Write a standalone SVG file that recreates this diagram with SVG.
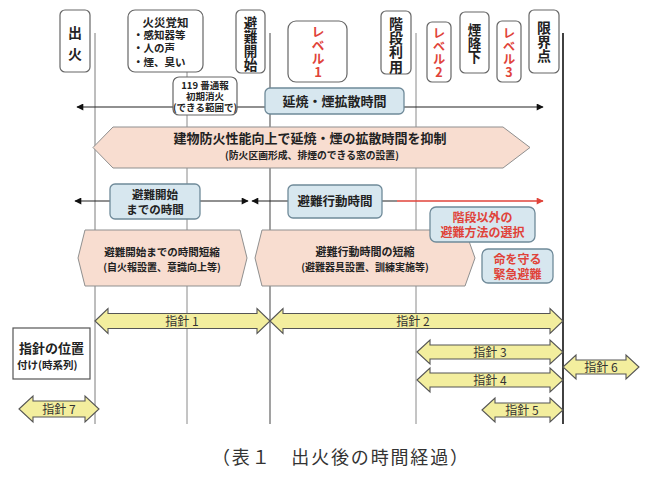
<svg xmlns="http://www.w3.org/2000/svg" width="650" height="486" viewBox="0 0 650 486">
<style>
text{font-family:"Noto Sans CJK JP","Noto Sans CJK SC",sans-serif;fill:#222;}
.b{font-weight:700;}
.hdr{fill:#fff;stroke:#666;stroke-width:1.2;}
.blue{fill:#d7e7ef;stroke:#6f8a99;stroke-width:1.3;}
.pink{fill:#f8ddd0;stroke:#8f8f8f;stroke-width:1;}
.yel{fill:#f3ee9e;stroke:#555;stroke-width:1.1;}
.red{fill:#e0433a;}
.vt{font-weight:700;text-anchor:middle;writing-mode:vertical-rl;text-orientation:upright;}
.c{text-anchor:middle;}
.yl{font-size:12px;text-anchor:middle;fill:#333;}
</style>
<defs>
<marker id="ah" viewBox="0 0 10 10" refX="9" refY="5" markerWidth="9" markerHeight="7" markerUnits="userSpaceOnUse" orient="auto-start-reverse"><path d="M0,0 L10,5 L0,10 Z" fill="#111"/></marker>
<marker id="ahr" viewBox="0 0 10 10" refX="9" refY="5" markerWidth="9" markerHeight="7" markerUnits="userSpaceOnUse" orient="auto"><path d="M0,0 L10,5 L0,10 Z" fill="#e0433a"/></marker>
</defs>

<g id="timeline-lines" fill="none">
<line x1="95" y1="33" x2="95" y2="424" stroke="#7d7d7d" stroke-width="1"/>
<line x1="187" y1="72" x2="187" y2="424" stroke="#8a8a8a" stroke-width="1"/>
<line x1="270" y1="33" x2="270" y2="424" stroke="#555" stroke-width="1.1"/>
<line x1="416" y1="33" x2="416" y2="424" stroke="#8a8a8a" stroke-width="1"/>
<line x1="563" y1="33" x2="563" y2="424" stroke="#111" stroke-width="1.6"/>
</g>

<g id="connectors" fill="none">
<line x1="77" y1="107" x2="543" y2="107" stroke="#222" stroke-width="1.2" marker-start="url(#ah)" marker-end="url(#ah)"/>
<line x1="75" y1="201" x2="248" y2="201" stroke="#222" stroke-width="1.2" marker-start="url(#ah)" marker-end="url(#ah)"/>
<line x1="252" y1="201" x2="397" y2="201" stroke="#222" stroke-width="1.2" marker-start="url(#ah)"/>
<line x1="397" y1="201" x2="543" y2="201" stroke="#e0433a" stroke-width="1.4" marker-end="url(#ahr)"/>
</g>

<g id="n-shukka"><rect class="hdr" x="60" y="10" width="30" height="62" rx="5"/>
<text class="vt" x="75" y="47" font-size="14" letter-spacing="7">出火</text></g>

<g id="n-kasai"><rect class="hdr" x="128" y="10" width="75" height="62" rx="7"/>
<text class="b c" x="165.5" y="26.5" font-size="11.5">火災覚知</text>
<text class="b" x="133" y="38.5" font-size="10.5">・感知器等</text>
<text class="b" x="133" y="52" font-size="10.5">・人の声</text>
<text class="b" x="133" y="66" font-size="10.5">・煙、臭い</text></g>

<g id="n-hinan-kaishi"><rect class="hdr" x="236" y="10" width="29" height="63" rx="5"/>
<text class="vt" x="250.5" y="44" font-size="13.5" letter-spacing="0.5">避難開始</text></g>

<g id="n-level1"><rect class="hdr" x="288" y="21" width="59" height="61" rx="8"/>
<text class="vt red" x="318" y="52" font-size="13" letter-spacing="0.5">レベル1</text></g>

<g id="n-kaidan"><rect class="hdr" x="381" y="11" width="30" height="63" rx="5"/>
<text class="vt" x="396" y="45" font-size="14" letter-spacing="0.3">階段利用</text></g>

<g id="n-level2"><rect class="hdr" x="427" y="22" width="24" height="60" rx="5"/>
<text class="vt red" x="439" y="53" font-size="12.5" letter-spacing="0.3">レベル2</text></g>

<g id="n-kemuri"><rect class="hdr" x="460" y="12" width="29" height="61" rx="5"/>
<text class="vt" x="474.5" y="43.5" font-size="13.5">煙降下</text></g>

<g id="n-level3"><rect class="hdr" x="497" y="21" width="24" height="61" rx="5"/>
<text class="vt red" x="509" y="53" font-size="12.5" letter-spacing="0.3">レベル3</text></g>

<g id="n-genkai"><rect class="hdr" x="529" y="10" width="30" height="63" rx="5"/>
<text class="vt" x="544" y="42" font-size="14">限界点</text></g>

<g id="n-119"><rect class="hdr" x="173" y="77" width="64" height="38" rx="6"/>
<text class="b c" x="205" y="88.5" font-size="9.5">119 番通報</text>
<text class="b c" x="205" y="99.5" font-size="9.5">初期消火</text>
<text class="b c" x="205" y="111" font-size="9.5">(できる範囲で)</text></g>

<g id="n-enshou"><rect class="blue" x="265" y="88" width="139" height="26" rx="5"/>
<text class="b c" x="334.5" y="106" font-size="13">延焼・煙拡散時間</text></g>

<g id="n-kenbutsu"><path class="pink" d="M113,127 L503,127 L530,147.5 L503,168 L113,168 L93,147.5 Z"/>
<text class="b c" x="310" y="143" font-size="13">建物防火性能向上で延焼・煙の拡散時間を抑制</text>
<text class="b c" x="312" y="159" font-size="9.8">(防火区画形成、排煙のできる窓の設置)</text></g>

<g id="n-made"><rect class="blue" x="110" y="184" width="90" height="35" rx="5"/>
<text class="b c" x="155" y="199" font-size="11.5">避難開始</text>
<text class="b c" x="155" y="213.5" font-size="11.5">までの時間</text></g>

<g id="n-koudou"><rect class="blue" x="288" y="185" width="94" height="33" rx="5"/>
<text class="b c" x="335" y="205.5" font-size="12.5">避難行動時間</text></g>

<g id="n-tanshuku1"><path class="pink" d="M85,230 L240,230 L247,258 L240,286 L85,286 L78,258 Z"/>
<text class="b c" x="162" y="256" font-size="10.5">避難開始までの時間短縮</text>
<text class="b c" x="162" y="271" font-size="10">(自火報設置、意識向上等)</text></g>

<g id="n-tanshuku2"><path class="pink" d="M262,230 L465,230 L475,258 L465,286 L262,286 L255,258 Z"/>
<text class="b c" x="365" y="256" font-size="11">避難行動時間の短縮</text>
<text class="b c" x="365" y="271" font-size="10">(避難器具設置、訓練実施等)</text></g>

<g id="n-kaidan-igai"><rect class="blue" x="430" y="207" width="105" height="35" rx="6"/>
<text class="b c red" x="482.5" y="221.5" font-size="12">階段以外の</text>
<text class="b c red" x="482.5" y="236.5" font-size="12">避難方法の選択</text></g>

<g id="n-inochi"><rect class="blue" x="482" y="249" width="71" height="34" rx="6"/>
<text class="b c red" x="517.5" y="264" font-size="12">命を守る</text>
<text class="b c red" x="517.5" y="279" font-size="12">緊急避難</text></g>

<g id="n-ichizuke"><rect x="13" y="328" width="77" height="51" fill="#fff" stroke="#555" stroke-width="1.2"/>
<text class="b c" x="51.5" y="353" font-size="13">指針の位置</text>
<text class="b" x="17" y="369" font-size="10.5">付け(時系列)</text></g>

<g id="n-shishin1"><path class="yel" d="M95,321 L108,308.5 L108,313.5 L257,313.5 L257,308.5 L270,321 L257,333.5 L257,328.5 L108,328.5 L108,333.5 Z"/>
<text class="yl" x="182" y="325.5">指針 1</text></g>

<g id="n-shishin2"><path class="yel" d="M270,321 L283,308.5 L283,313.5 L550,313.5 L550,308.5 L563,321 L550,333.5 L550,328.5 L283,328.5 L283,333.5 Z"/>
<text class="yl" x="413" y="325.5">指針 2</text></g>

<g id="n-shishin3"><path class="yel" d="M417,352 L430,340 L430,345 L550,345 L550,340 L563,352 L550,364 L550,359 L430,359 L430,364 Z"/>
<text class="yl" x="490" y="356.5">指針 3</text></g>

<g id="n-shishin4"><path class="yel" d="M417,380 L430,368 L430,373 L550,373 L550,368 L563,380 L550,392 L550,387 L430,387 L430,392 Z"/>
<text class="yl" x="490" y="384.5">指針 4</text></g>

<g id="n-shishin5"><path class="yel" d="M482,410 L495,398 L495,403 L550,403 L550,398 L563,410 L550,422 L550,417 L495,417 L495,422 Z"/>
<text class="yl" x="522" y="414.5">指針 5</text></g>

<g id="n-shishin6"><path class="yel" d="M563,367 L576,355 L576,360 L626,360 L626,355 L639,367 L626,379 L626,374 L576,374 L576,379 Z"/>
<text class="yl" x="601" y="371.5">指針 6</text></g>

<g id="n-shishin7"><path class="yel" d="M19,409 L33,396 L33,401 L85,401 L85,396 L99,409 L85,422 L85,417 L33,417 L33,422 Z"/>
<text class="yl" x="59" y="413.5">指針 7</text></g>

<g id="caption"><text x="340" y="464" font-size="18" text-anchor="middle" textLength="256" lengthAdjust="spacing" style="fill:#333">（表１　出火後の時間経過）</text></g>
</svg>
